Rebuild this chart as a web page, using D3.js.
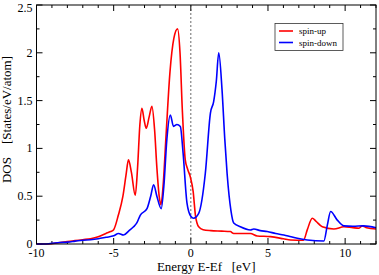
<!DOCTYPE html>
<meta charset="utf-8">
<style>
    body { margin: 0; background: #fff; }
    text { font-family: "Liberation Serif", "DejaVu Serif", serif; fill: #000; }
    .frame { fill: none; stroke: #000; stroke-width: 1; }
    .tick { stroke: #000; stroke-width: 1; }
    .dos { fill: none; stroke-width: 1.6; stroke-linejoin: round; }
</style>
<body>
<script src="https://cdn.jsdelivr.net/npm/d3@7"></script>
<script>

    // spin-up DOS: [energy, dos]
    var spinUp = [
        [-10, 0], [-9.5, 0], [-9, 0.003], [-8.7, 0.01], [-8, 0.025], [-7.5, 0.035],
        [-7, 0.045], [-6.5, 0.055], [-6, 0.075], [-5.5, 0.11], [-5.2, 0.13], [-5, 0.15],
        [-4.7, 0.3], [-4.4, 0.5], [-4.2, 0.72], [-4.04, 0.88], [-3.85, 0.75], [-3.6, 0.51],
        [-3.45, 0.8], [-3.3, 1.25], [-3.17, 1.42], [-3.03, 1.3], [-2.89, 1.21], [-2.7, 1.33],
        [-2.52, 1.44], [-2.35, 1.2], [-2.2, 0.8], [-2.05, 0.5], [-1.94, 0.41], [-1.8, 0.6],
        [-1.6, 1.15], [-1.35, 1.8], [-1.1, 2.15], [-0.86, 2.25], [-0.7, 2.0], [-0.55, 1.4],
        [-0.36, 0.88], [-0.2, 0.78], [-0.03, 0.7], [0.15, 0.55], [0.3, 0.3], [0.51, 0.18],
        [0.8, 0.15], [1.3, 0.14], [2.0, 0.135], [2.56, 0.13], [2.78, 0.11], [3.5, 0.11],
        [3.86, 0.11], [4.3, 0.084], [5.16, 0.077], [6, 0.055], [6.46, 0.042], [7.3, 0.04],
        [7.55, 0.15], [7.87, 0.27], [8.1, 0.24], [8.52, 0.18], [9.27, 0.157], [9.92, 0.18],
        [10.5, 0.17], [10.9, 0.165], [11.1, 0.19], [11.4, 0.17], [12, 0.157]
    ];

    // spin-down DOS: [energy, dos]
    var spinDown = [
        [-10, 0], [-9.5, 0], [-9.1, 0.005], [-8.5, 0.015], [-8, 0.02], [-7.5, 0.03],
        [-7, 0.04], [-6.5, 0.045], [-6, 0.055], [-5.5, 0.07], [-5, 0.085], [-4.69, 0.11],
        [-4.36, 0.094], [-4, 0.14], [-3.71, 0.18], [-3.5, 0.22], [-3.28, 0.3], [-2.84, 0.37],
        [-2.6, 0.5], [-2.41, 0.62], [-2.2, 0.5], [-1.92, 0.37], [-1.75, 0.6], [-1.55, 1.1],
        [-1.33, 1.35], [-1.12, 1.23], [-0.9, 1.25], [-0.68, 1.23], [-0.5, 0.95], [-0.25, 0.43],
        [0, 0.29], [0.18, 0.27], [0.51, 0.32], [0.94, 0.74], [1.27, 1.37], [1.48, 1.49],
        [1.65, 1.7], [1.81, 2.0], [2.02, 1.62], [2.2, 1.1], [2.35, 0.74], [2.6, 0.35],
        [2.78, 0.22], [3.21, 0.18], [3.86, 0.147], [4.08, 0.157], [4.5, 0.14], [4.95, 0.13],
        [5.5, 0.11], [6.03, 0.094], [6.5, 0.075], [6.9, 0.06], [7.55, 0.042], [8.62, 0.031],
        [8.85, 0.2], [9.06, 0.34], [9.49, 0.25], [9.92, 0.19], [10.5, 0.185], [11.2, 0.19],
        [12, 0.17]
    ];

    var xTicks = [-10, -5, 0, 5, 10];
    var yTicks = [0, 0.5, 1, 1.5, 2, 2.5];
    var seriesNames = ["spin-up", "spin-down"];
    var seriesColors = ["#ff0000", "#0000ff"];

    var margin = {top: 5, right: 3, bottom: 31, left: 36.5},
        width = 379 - margin.left - margin.right,
        height = 275 - margin.top - margin.bottom;

    var x = d3.scaleLinear().domain([-10, 12]).range([0, width]);
    var y = d3.scaleLinear().domain([0, 2.5]).range([height, 0]);

    var svg = d3.select("body").append("svg")
            .attr("width", 379)
            .attr("height", 275)
        .append("g")
            .attr("transform", "translate(" + margin.left + "," + margin.top + ")");

    // ticks (inward, all four sides)
    var xMinor = d3.range(-10, 12.01, 1);
    var yMinor = d3.range(0, 2.51, 0.25);

    function tickLines(vals, horiz) {
        vals.forEach(function(v) {
            var major = horiz ? xTicks.indexOf(v) >= 0 : yTicks.indexOf(+v.toFixed(2)) >= 0;
            var l = major ? 6 : 3;
            if (horiz) {
                svg.append("line").attr("class", "tick")
                    .attr("x1", x(v)).attr("x2", x(v)).attr("y1", height).attr("y2", height - l);
                svg.append("line").attr("class", "tick")
                    .attr("x1", x(v)).attr("x2", x(v)).attr("y1", 0).attr("y2", l);
            } else {
                svg.append("line").attr("class", "tick")
                    .attr("y1", y(v)).attr("y2", y(v)).attr("x1", 0).attr("x2", l);
                svg.append("line").attr("class", "tick")
                    .attr("y1", y(v)).attr("y2", y(v)).attr("x1", width).attr("x2", width - l);
            }
        });
    }
    tickLines(xMinor, true);
    tickLines(yMinor, false);

    svg.selectAll("text.xl").data(xTicks).enter().append("text")
        .attr("x", function(d) { return x(d); })
        .attr("y", height + 13)
        .attr("text-anchor", "middle")
        .style("font-size", "12px")
        .text(function(d) { return d; });

    // top label sits a little lower so it stays inside the page
    svg.selectAll("text.yl").data(yTicks).enter().append("text")
        .attr("x", -4)
        .attr("y", function(d) { return y(d) + (d === 2.5 ? 7 : 4); })
        .attr("text-anchor", "end")
        .style("font-size", "12px")
        .text(function(d) { return d; });

    // fermi level
    svg.append("line")
        .attr("x1", x(0)).attr("x2", x(0))
        .attr("y1", 0).attr("y2", height)
        .attr("stroke", "#444")
        .attr("stroke-width", 0.8)
        .attr("stroke-dasharray", "2,2");

    var line = d3.line()
        .x(function(d) { return x(d[0]); })
        .y(function(d) { return y(d[1]); })
        .curve(d3.curveMonotoneX);

    svg.append("g")
        .selectAll("path").data([spinUp, spinDown]).enter().append("path")
        .attr("class", "dos")
        .attr("stroke", function(d, i) { return seriesColors[i]; })
        .attr("d", line);

    svg.append("rect").attr("class", "frame")
        .attr("width", width).attr("height", height);

    // axis titles
    svg.append("text")
        .attr("x", width / 2)
        .attr("y", height + 27)
        .attr("text-anchor", "middle")
        .style("font-size", "13px")
        .style("white-space", "pre")
        .text("Energy E-Ef   [eV]");

    svg.append("text")
        .attr("transform", "translate(" + (-26) + "," + (height / 2 - 5) + ") rotate(-90)")
        .attr("text-anchor", "middle")
        .style("font-size", "13px")
        .style("white-space", "pre")
        .text("DOS    [States/eV/atom]");

    // legend
    var lg = svg.append("g")
        .attr("transform", "translate(" + (275 - margin.left) + "," + (23.5 - margin.top) + ")");
    lg.append("rect")
        .attr("width", 68).attr("height", 27)
        .attr("fill", "#fff").attr("stroke", "#333").attr("stroke-width", 0.8);
    seriesNames.forEach(function(n, i) {
        lg.append("line")
            .attr("x1", 4).attr("x2", 18)
            .attr("y1", 7.5 + i * 11.5).attr("y2", 7.5 + i * 11.5)
            .attr("stroke", seriesColors[i]).attr("stroke-width", 1.6);
        lg.append("text")
            .attr("x", 24).attr("y", 10.5 + i * 11.5)
            .style("font-size", "9px")
            .text(n);
    });

</script>
